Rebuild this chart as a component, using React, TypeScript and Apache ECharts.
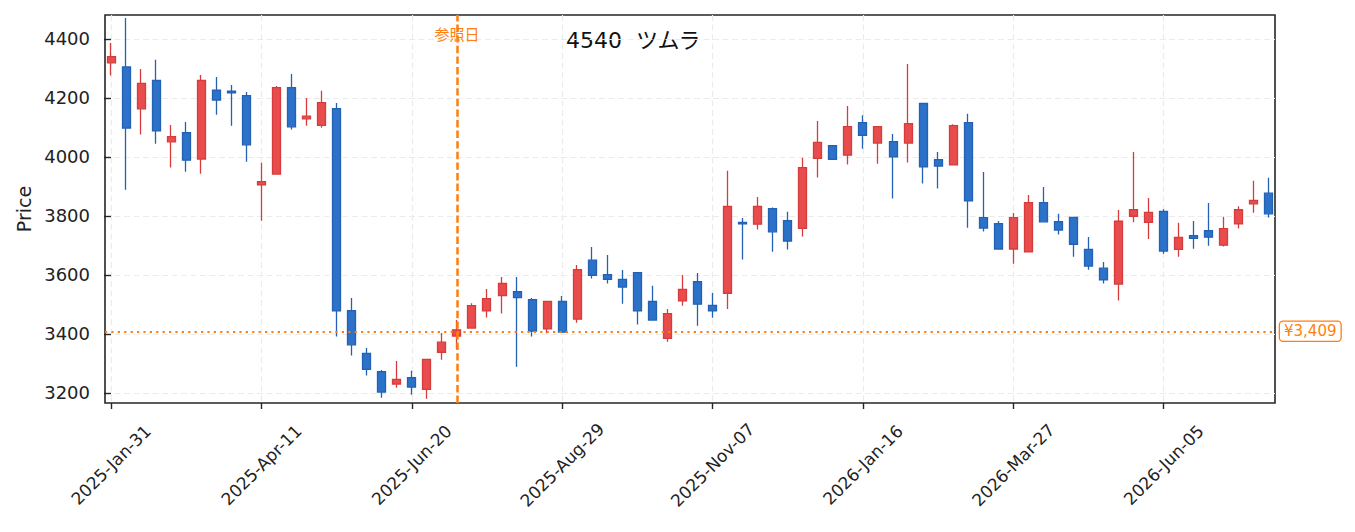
import React, { useEffect, useRef } from "react";
import * as echarts from "echarts";

const dates = [
  "2025-Jan-31", "2025-Feb-07", "2025-Feb-14", "2025-Feb-21", "2025-Feb-28",
  "2025-Mar-07", "2025-Mar-14", "2025-Mar-21", "2025-Mar-28", "2025-Apr-04",
  "2025-Apr-11", "2025-Apr-18", "2025-Apr-25", "2025-May-02", "2025-May-09",
  "2025-May-16", "2025-May-23", "2025-May-30", "2025-Jun-06", "2025-Jun-13",
  "2025-Jun-20", "2025-Jun-27", "2025-Jul-04", "2025-Jul-11", "2025-Jul-18",
  "2025-Jul-25", "2025-Aug-01", "2025-Aug-08", "2025-Aug-15", "2025-Aug-22",
  "2025-Aug-29", "2025-Sep-05", "2025-Sep-12", "2025-Sep-19", "2025-Sep-26",
  "2025-Oct-03", "2025-Oct-10", "2025-Oct-17", "2025-Oct-24", "2025-Oct-31",
  "2025-Nov-07", "2025-Nov-14", "2025-Nov-21", "2025-Nov-28", "2025-Dec-05",
  "2025-Dec-12", "2025-Dec-19", "2025-Dec-26", "2026-Jan-02", "2026-Jan-09",
  "2026-Jan-16", "2026-Jan-23", "2026-Jan-30", "2026-Feb-06", "2026-Feb-13",
  "2026-Feb-20", "2026-Feb-27", "2026-Mar-06", "2026-Mar-13", "2026-Mar-20",
  "2026-Mar-27", "2026-Apr-03", "2026-Apr-10", "2026-Apr-17", "2026-Apr-24",
  "2026-May-01", "2026-May-08", "2026-May-15", "2026-May-22", "2026-May-29",
  "2026-Jun-05", "2026-Jun-12", "2026-Jun-19", "2026-Jun-26", "2026-Jul-03",
  "2026-Jul-10", "2026-Jul-17", "2026-Jul-24",
];

const opens = [
  4319, 4305, 4163, 4259, 4051, 4082, 3993, 4226, 4223, 4208,
  3905, 3942, 4235, 4129, 4107, 4164, 3479, 3334, 3272, 3230,
  3252, 3212, 3338, 3393, 3420, 3478, 3530, 3543, 3516, 3417,
  3510, 3450, 3650, 3601, 3585, 3608, 3510, 3385, 3512, 3577,
  3497, 3538, 3778, 3772, 3825, 3784, 3758, 3995, 4038, 4006,
  4116, 4047, 4052, 4047, 4181, 3991, 3973, 4116, 3794, 3774,
  3688, 3678, 3845, 3781, 3795, 3687, 3623, 3569, 3799, 3778,
  3815, 3687, 3733, 3750, 3701, 3773, 3841, 3877,
];

const closes = [
  4340, 4098, 4249, 4088, 4069, 3989, 4259, 4193, 4217, 4041,
  3916, 4235, 4102, 4138, 4184, 3478, 3363, 3280, 3203, 3246,
  3220, 3314, 3372, 3414, 3496, 3520, 3571, 3523, 3410, 3510,
  3406, 3618, 3599, 3585, 3559, 3478, 3447, 3469, 3551, 3501,
  3478, 3832, 3773, 3832, 3746, 3715, 3964, 4049, 3992, 4103,
  4073, 4103, 4000, 4113, 3966, 3969, 4106, 3851, 3759, 3688,
  3794, 3845, 3780, 3752, 3704, 3630, 3583, 3782, 3821, 3812,
  3681, 3727, 3724, 3728, 3757, 3821, 3853, 3807,
];

const lows = [
  4276, 3889, 4076, 4045, 3964, 3950, 3943, 4143, 4106, 3984,
  3784, 3942, 4093, 4106, 4099, 3391, 3327, 3259, 3184, 3218,
  3194, 3180, 3313, 3348, 3420, 3456, 3469, 3289, 3391, 3402,
  3406, 3438, 3588, 3571, 3502, 3432, 3447, 3374, 3496, 3428,
  3455, 3485, 3652, 3754, 3679, 3686, 3730, 3930, 3992, 3974,
  4028, 3977, 3859, 3981, 3910, 3893, 3973, 3760, 3747, 3688,
  3638, 3678, 3780, 3737, 3662, 3618, 3571, 3513, 3779, 3722,
  3672, 3662, 3689, 3699, 3696, 3757, 3811, 3795,
];

const highs = [
  4386, 4471, 4298, 4329, 4108, 4118, 4278, 4271, 4244, 4220,
  3980, 4240, 4281, 4200, 4224, 4183, 3522, 3352, 3278, 3308,
  3275, 3314, 3403, 3447, 3504, 3552, 3593, 3593, 3522, 3510,
  3529, 3634, 3695, 3668, 3617, 3608, 3563, 3485, 3600, 3607,
  3539, 3953, 3793, 3864, 3829, 3814, 3997, 4122, 4038, 4173,
  4141, 4103, 4078, 4315, 4181, 4017, 4111, 4146, 3949, 3783,
  3810, 3871, 3898, 3807, 3795, 3729, 3644, 3820, 4017, 3861,
  3823, 3777, 3783, 3844, 3797, 3833, 3919, 3929,
];

const xTickIndices = [0, 10, 20, 30, 40, 50, 60, 70];
const yTicks = [3200, 3400, 3600, 3800, 4000, 4200, 4400];
const refIndex = 23;
const refPrice = 3409;
const refLabelText = "参照日";
const refLabelY = 4417;
const priceLabelText = "¥3,409";
const titleText = "4540  ツムラ";

const LATIN = "'DejaVu Sans', 'Noto Sans CJK JP', sans-serif";
const CJK = "'Noto Sans CJK JP', 'DejaVu Sans', sans-serif";
const ORANGE = "#ff7f0e";

export default function App() {
  const ref = useRef<HTMLDivElement>(null);

  useEffect(() => {
    if (!ref.current) return;
    const chart = echarts.init(ref.current, null, { renderer: "svg" });
    const data = opens.map((o, i) => [i, o, closes[i], lows[i], highs[i]]);

    chart.setOption({
      animation: false,
      backgroundColor: "#ffffff",
      grid: {
        left: 105,
        right: 80,
        top: 15,
        bottom: 129,
        show: true,
        borderColor: "#262626",
        borderWidth: 1.6,
        backgroundColor: "transparent",
        outerBoundsMode: "none",
      },
      graphic: [
        {
          type: "text",
          x: 566,
          y: 40,
          style: {
            text: titleText,
            fontSize: 22,
            fontFamily: LATIN,
            fill: "#111111",
            verticalAlign: "middle",
            align: "left",
          },
        },
      ],
      xAxis: {
        type: "value",
        min: -0.4,
        max: 77.4,
        axisLine: { show: false },
        axisTick: {
          show: true,
          customValues: xTickIndices,
          length: 6,
          lineStyle: { color: "#262626", width: 1.4 },
        },
        axisLabel: {
          customValues: xTickIndices,
          formatter: (v: number) => dates[Math.round(v)] ?? "",
          rotate: 45,
          align: "center",
          verticalAlign: "middle",
          margin: 62,
          fontSize: 17,
          fontFamily: LATIN,
          color: "#222222",
        },
        splitLine: {
          show: true,
          lineStyle: { color: "#ebebeb", width: 1.2, type: [6, 3.5] },
        },
      },
      yAxis: {
        type: "value",
        min: 3166,
        max: 4481,
        scale: true,
        name: "Price",
        nameLocation: "middle",
        nameRotate: 90,
        nameGap: 64,
        nameTextStyle: { fontSize: 19, fontFamily: LATIN, color: "#222222" },
        axisLine: { show: false },
        axisTick: {
          show: true,
          customValues: yTicks,
          length: 7,
          lineStyle: { color: "#262626", width: 1.4 },
        },
        axisLabel: {
          customValues: yTicks,
          formatter: (v: number) => String(Math.round(v)),
          margin: 15,
          fontSize: 18,
          fontFamily: LATIN,
          color: "#222222",
        },
        splitLine: {
          show: true,
          lineStyle: { color: "#ebebeb", width: 1.2, type: [6, 3.5] },
        },
      },
      series: [
        {
          type: "candlestick",
          data,
          encode: { x: 0, y: [1, 2, 3, 4] },
          barWidth: 8.5,
          itemStyle: {
            color: "#e84c4c",
            color0: "#2c72c8",
            borderColor: "#d63c3c",
            borderColor0: "#2361b5",
            borderWidth: 1.3,
          },
          markLine: {
            silent: true,
            symbol: ["none", "none"],
            animation: false,
            data: [
              {
                xAxis: refIndex,
                lineStyle: { color: ORANGE, width: 2.5, type: [7.4, 3.2] },
                label: { show: false },
              },
              {
                yAxis: refPrice,
                lineStyle: { color: ORANGE, width: 2.2, type: [2.2, 4.2] },
                label: {
                  show: true,
                  position: "end",
                  distance: 5,
                  formatter: priceLabelText,
                  color: ORANGE,
                  fontSize: 15,
                  fontFamily: LATIN,
                  backgroundColor: "#ffffff",
                  borderColor: ORANGE,
                  borderWidth: 1.3,
                  borderRadius: 3,
                  padding: [2, 4, 2, 4],
                },
              },
            ],
          },
          markPoint: {
            silent: true,
            symbol: "rect",
            symbolSize: [1, 1],
            itemStyle: { color: "rgba(0,0,0,0)" },
            data: [
              {
                coord: [refIndex, refLabelY],
                value: refLabelText,
                label: {
                  show: true,
                  position: "inside",
                  formatter: refLabelText,
                  color: ORANGE,
                  fontSize: 15,
                  fontFamily: CJK,
                },
              },
            ],
          },
        },
      ],
    });

    return () => chart.dispose();
  }, []);

  return (
    <div
      ref={ref}
      style={{
        position: "fixed",
        left: 0,
        top: 0,
        width: 1355,
        height: 532,
        background: "#ffffff",
      }}
    />
  );
}
